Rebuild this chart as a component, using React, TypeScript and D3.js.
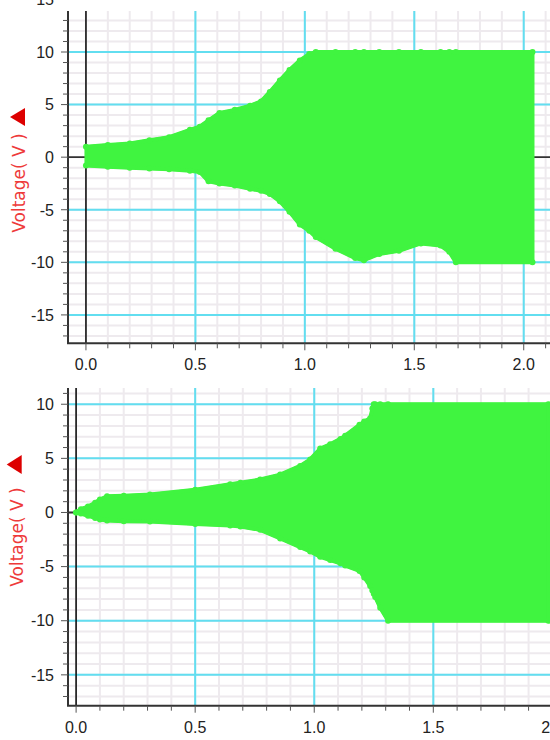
import React from "react";
import * as d3 from "d3";

// ---------- data ----------
// Top panel envelope of the oscillating voltage
const topTime = [0, 0.1, 0.2, 0.29, 0.38, 0.475, 0.52, 0.56, 0.61, 0.68, 0.75, 0.8, 0.84, 0.886, 0.93, 0.977, 1.02, 1.05, 1.14, 1.23, 1.27, 1.34, 1.43, 1.53, 1.62, 1.66, 1.69, 2.04];
const topUpper = [1.0, 1.15, 1.3, 1.6, 1.9, 2.6, 2.9, 3.5, 4.2, 4.5, 4.9, 5.3, 6.2, 7.3, 8.3, 9.2, 9.8, 10, 10, 10, 10, 10, 10, 10, 10, 10, 10, 10];
const topLower = [-0.8, -0.9, -1.0, -1.08, -1.15, -1.3, -1.4, -2.3, -2.5, -2.7, -3.0, -3.2, -3.5, -4.2, -5.2, -6.4, -7.0, -7.6, -8.7, -9.6, -9.8, -9.2, -8.9, -8.2, -8.4, -9.0, -10, -10];

// Bottom panel envelope
const botTime = [0, 0.02, 0.05, 0.08, 0.1, 0.13, 0.2, 0.31, 0.5, 0.647, 0.69, 0.773, 0.857, 0.941, 0.983, 1.025, 1.067, 1.11, 1.13, 1.19, 1.21, 1.235, 1.244, 1.25, 1.256, 1.277, 1.31, 1.983];
const botUpper = [0, 0.3, 0.55, 0.9, 1.2, 1.5, 1.55, 1.66, 2.1, 2.6, 2.75, 3.05, 3.5, 4.3, 4.9, 5.9, 6.3, 6.8, 7.1, 8.1, 8.4, 8.7, 9.6, 10, 10, 10, 10, 10];
const botLower = [0, -0.1, -0.3, -0.5, -0.65, -0.75, -0.8, -0.84, -1.06, -1.2, -1.3, -1.6, -2.4, -3.2, -3.6, -4.1, -4.4, -4.7, -4.9, -5.4, -6.0, -6.8, -7.2, -7.5, -7.8, -8.8, -10, -10];

const xTickValues = [0, 0.5, 1.0, 1.5, 2.0];
const yTickValues = [-15, -10, -5, 0, 5, 10, 15];
const yLabel = "Voltage( V )";

// ---------- styles ----------
const GREEN = "#40f440";
const CYAN = "#62def0";
const MINOR = "#eeeaee";
const AXIS = "#333";
const TICK_FONT = "'Liberation Sans', Arial, sans-serif";
const LABEL_FONT = "'DejaVu Sans', sans-serif";

type PanelProps = {
  id: string;
  t: number[];
  up: number[];
  lo: number[];
  xDomain: [number, number];
  yDomain: [number, number];
  left: number;
  right: number;
  top: number;
  bottom: number;
  labelX: number;
  labelY: number;
  tri: [number, number, number, number]; // apexX, baseX, yTop, yBottom
};

function Panel(p: PanelProps) {
  const x = d3.scaleLinear().domain(p.xDomain).range([p.left, p.right]);
  const y = d3.scaleLinear().domain(p.yDomain).range([p.bottom, p.top]);
  const idx = p.t.map((_, i) => i);

  const area = d3
    .area<number>()
    .x((i) => x(p.t[i]))
    .y0((i) => y(p.lo[i]))
    .y1((i) => y(p.up[i]));
  const upperLine = d3.line<number>().x((i) => x(p.t[i])).y((i) => y(p.up[i]));
  const lowerLine = d3.line<number>().x((i) => x(p.t[i])).y((i) => y(p.lo[i]));

  const xMinor = d3.range(Math.ceil(p.xDomain[0] * 10), Math.floor(p.xDomain[1] * 10) + 1).map((k) => k / 10);
  const yMinor = d3.range(Math.ceil(p.yDomain[0]), Math.floor(p.yDomain[1]) + 1);
  const xMajorIn = xTickValues.filter((v) => v >= p.xDomain[0] && v <= p.xDomain[1]);
  const yMajorIn = yTickValues.filter((v) => v >= p.yDomain[0] && v <= p.yDomain[1]);
  const yLabelsShown = yTickValues.filter((v) => y(v) >= p.top - 12 && y(v) <= p.bottom);
  const fmtX = d3.format(".1f");
  const last = p.t.length - 1;

  return (
    <g>
      <defs>
        <clipPath id={`clip-${p.id}`}>
          <rect x={p.left} y={p.top} width={p.right - p.left} height={p.bottom - p.top} />
        </clipPath>
      </defs>
      {/* minor grid */}
      {xMinor.map((v) => (
        <line key={`xm${v}`} x1={x(v)} x2={x(v)} y1={p.top} y2={p.bottom} stroke={MINOR} strokeWidth={2} />
      ))}
      {yMinor.map((v) => (
        <line key={`ym${v}`} x1={p.left} x2={p.right} y1={y(v)} y2={y(v)} stroke={MINOR} strokeWidth={2} />
      ))}
      {/* major grid */}
      {xMajorIn.filter((v) => v !== 0).map((v) => (
        <line key={`xg${v}`} x1={x(v)} x2={x(v)} y1={p.top} y2={p.bottom} stroke={CYAN} strokeWidth={2} />
      ))}
      {yMajorIn.filter((v) => v !== 0).map((v) => (
        <line key={`yg${v}`} x1={p.left} x2={p.right} y1={y(v)} y2={y(v)} stroke={CYAN} strokeWidth={2} />
      ))}
      {/* zero lines */}
      <line x1={x(0)} x2={x(0)} y1={p.top} y2={p.bottom} stroke="#111" strokeWidth={1.6} />
      <line x1={p.left} x2={p.right} y1={y(0)} y2={y(0)} stroke="#333" strokeWidth={1.8} />
      {/* data */}
      <g clipPath={`url(#clip-${p.id})`}>
        <path d={area(idx) || ""} fill={GREEN} stroke={GREEN} strokeWidth={3} strokeLinejoin="round" />
        <path d={upperLine(idx) || ""} fill="none" stroke={GREEN} strokeWidth={4} strokeLinecap="round" strokeLinejoin="round" />
        <path d={lowerLine(idx) || ""} fill="none" stroke={GREEN} strokeWidth={4} strokeLinecap="round" strokeLinejoin="round" />
        <line x1={x(p.t[last])} x2={x(p.t[last])} y1={y(p.up[last])} y2={y(p.lo[last])} stroke={GREEN} strokeWidth={4} />
        {idx.map((i) => (
          <g key={`pt${i}`}>
            <circle cx={x(p.t[i])} cy={y(p.up[i])} r={3} fill={GREEN} />
            <circle cx={x(p.t[i])} cy={y(p.lo[i])} r={3} fill={GREEN} />
          </g>
        ))}
      </g>
      {/* axes */}
      <line x1={p.left} x2={p.left} y1={p.top} y2={p.bottom} stroke={AXIS} strokeWidth={2} />
      <line x1={p.left - 1} x2={p.right} y1={p.bottom} y2={p.bottom} stroke={AXIS} strokeWidth={2} />
      {yMinor.map((v) => (
        <line key={`yt${v}`} x1={p.left - (v % 5 === 0 ? 7 : 5)} x2={p.left} y1={y(v)} y2={y(v)} stroke="#555" strokeWidth={1} />
      ))}
      {xMinor.map((v) => (
        <line key={`xt${v}`} x1={x(v)} x2={x(v)} y1={p.bottom} y2={p.bottom + (Math.abs(v * 2 - Math.round(v * 2)) < 1e-6 ? 7 : 5)} stroke="#555" strokeWidth={1} />
      ))}
      {/* tick labels */}
      {yLabelsShown.map((v) => (
        <text key={`yl${v}`} x={p.left - 14} y={y(v)} dy="0.36em" textAnchor="end" fontFamily={TICK_FONT} fontSize={16} fill="#222">
          {v}
        </text>
      ))}
      {xTickValues.map((v) => (
        <text key={`xl${v}`} x={x(v)} y={p.bottom + 27} textAnchor="middle" fontFamily={TICK_FONT} fontSize={16} fill="#222">
          {fmtX(v)}
        </text>
      ))}
      {/* y label */}
      <text
        transform={`translate(${p.labelX},${p.labelY}) rotate(-90)`}
        textAnchor="middle"
        fontFamily={LABEL_FONT}
        fontSize={17}
        fill="#ee3a3a"
      >
        {yLabel}
      </text>
      <path d={`M${p.tri[0]},${(p.tri[2] + p.tri[3]) / 2} L${p.tri[1]},${p.tri[2]} L${p.tri[1]},${p.tri[3]} Z`} fill="#dd0000" />
    </g>
  );
}

export default function App() {
  return (
    <svg
      width={550}
      height={740}
      style={{ position: "absolute", left: 0, top: 0, display: "block", background: "#fff" }}
    >
      <rect width={550} height={740} fill="#fff" />
      <Panel
        id="top"
        t={topTime}
        up={topUpper}
        lo={topLower}
        xDomain={[-0.082, 2.12]}
        yDomain={[-17.7, 13.9]}
        left={68}
        right={550}
        top={11}
        bottom={343.3}
        labelX={25}
        labelY={183}
        tri={[10, 25, 108, 126]}
      />
      <Panel
        id="bot"
        t={botTime}
        up={botUpper}
        lo={botLower}
        xDomain={[-0.034, 1.99]}
        yDomain={[-17.85, 11.5]}
        left={68}
        right={550}
        top={388}
        bottom={705.7}
        labelX={23}
        labelY={537}
        tri={[6.7, 21.7, 455, 474]}
      />
    </svg>
  );
}
